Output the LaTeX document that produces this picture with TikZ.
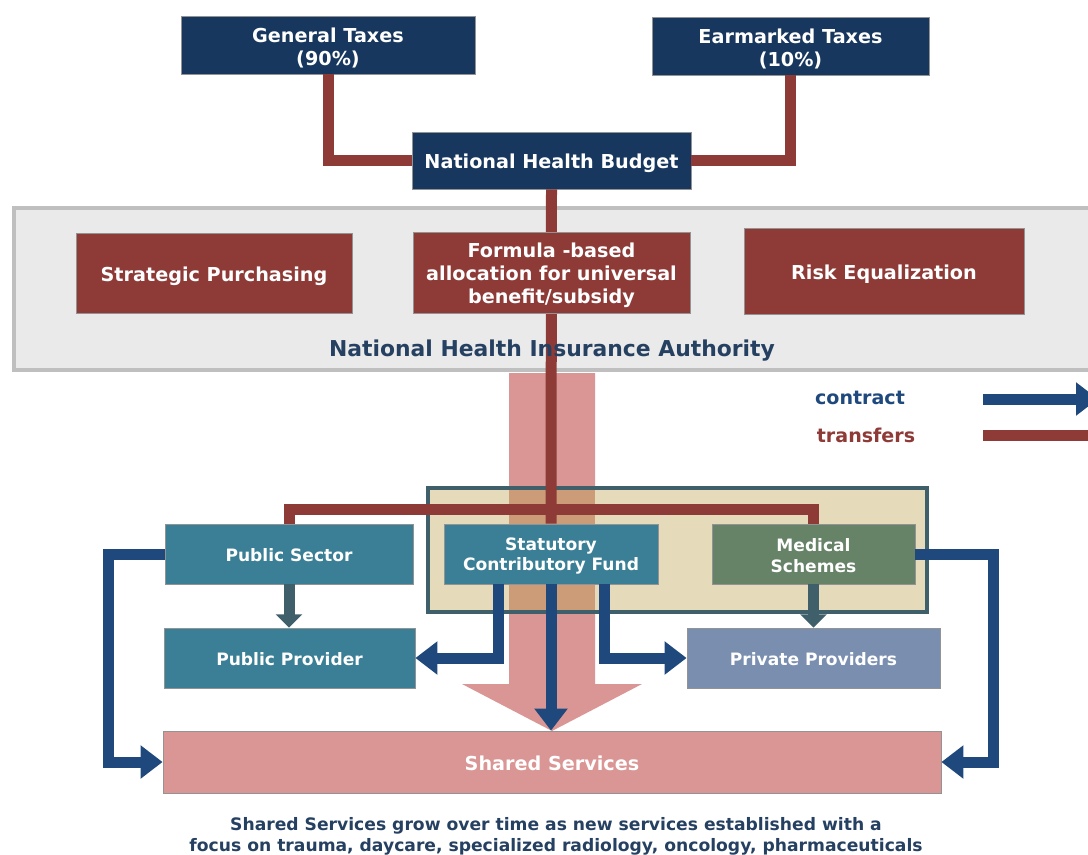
\documentclass[tikz,border=0pt]{standalone}
\usepackage{fontspec}
\setmainfont{DejaVu Sans}
\usetikzlibrary{arrows.meta}
\definecolor{navybox}{HTML}{17375E}
\definecolor{redbox}{HTML}{8E3B38}
\definecolor{tealbox}{HTML}{3A7F96}
\definecolor{greenbox}{HTML}{668267}
\definecolor{bluebox}{HTML}{7A8FB0}
\definecolor{pinkbox}{HTML}{D99694}
\definecolor{contractc}{HTML}{1F497D}
\definecolor{slate}{HTML}{3F5F6B}
\definecolor{panelg}{HTML}{EAEAEA}
\definecolor{paneledge}{HTML}{BFBFBF}
\definecolor{sand}{HTML}{E5DBBB}
\definecolor{overlap}{HTML}{CC9B78}
\definecolor{authtext}{HTML}{254061}
\tikzset{
  px/.style={x=0.75pt,y=-0.75pt},
  box/.style={rectangle,draw=gray!85,line width=0.6pt,inner sep=0pt},
  bigtext/.style={inner sep=0pt,align=center,text=white,font=\fontsize{14.4}{17.2}\selectfont\bfseries},
  smalltext/.style={bigtext,font=\fontsize{12.8}{15.7}\selectfont\bfseries},
  transfer/.style={draw=redbox,line width=8.25pt,line cap=butt,line join=miter},
  contract/.style={draw=contractc,line width=8.25pt,line join=miter,-{Triangle[width=24pt,length=16.5pt]}},
  slatearrow/.style={draw=slate,line width=8.25pt,-{Triangle[width=19.5pt,length=10pt]}}
}
% style of text, name, fill, x1, y1, x2, y2, downward text shift in pt, text
\newcommand{\bx}[9]{%
  \node[box,fill=#3,minimum width=#6*0.75pt-#4*0.75pt,minimum height=#7*0.75pt-#5*0.75pt] (#2) at ({(#4+#6)/2},{(#5+#7)/2}) {};
  \node[#1,yshift=-#8] (#2-text) at (#2) {#9};
}
\begin{document}
\begin{tikzpicture}[px]
\useasboundingbox (0,0) rectangle (1088,854);
\begin{scope}
\clip (0,0) rectangle (1088,854);
% pink big arrow
\fill[pinkbox] (509,373) -- (595,373) -- (595,684) -- (642,684) -- (552,731) -- (462,684) -- (509,684) -- cycle;
% NHI panel
\node[rectangle,draw=paneledge,fill=panelg,line width=3.4pt,minimum width=1090*0.75pt,minimum height=162*0.75pt,inner sep=0pt] (panel) at (559,289) {};
% frame
\fill[sand] (427,487) rectangle (928,613);
\fill[overlap] (509,489) rectangle (595,611);
\node[rectangle,draw=slate,line width=3.2pt,minimum width=499*0.75pt,minimum height=124*0.75pt,inner sep=0pt] (frame) at (427.5+250,550) {};
% transfers are drawn under the boxes: coordinates of the boxes first
\bx{bigtext}{general}{navybox}{181}{16}{475}{74}{2.25pt}{General Taxes\\(90\%)}
\bx{bigtext}{earmarked}{navybox}{652}{17}{929}{75}{2.25pt}{Earmarked Taxes\\(10\%)}
\bx{bigtext}{budget}{navybox}{412}{132}{691}{189}{2.25pt}{National Health Budget}
\bx{smalltext}{pubsec}{tealbox}{165}{524}{413}{584}{0.75pt}{Public Sector}
\bx{smalltext}{stat}{tealbox}{444}{524}{658}{584}{1.5pt}{Statutory\\Contributory Fund}
\bx{smalltext}{medical}{greenbox}{712}{524}{915}{584}{1.5pt}{Medical\\Schemes}
\bx{smalltext}{pubprov}{tealbox}{164}{628}{415}{688}{0.75pt}{Public Provider}
\bx{smalltext}{privprov}{bluebox}{687}{628}{940}{688}{0.75pt}{Private Providers}
\bx{bigtext}{shared}{pinkbox}{163}{731}{941}{793}{0.75pt}{Shared Services}
% transfers
\draw[transfer] (general.south) |- (budget.west);
\draw[transfer] (earmarked.south) |- (budget.east);
\draw[transfer] (budget.south) -- (stat.north);
\coordinate (bar) at (551,509);
\draw[transfer] (pubsec.north) |- (bar) -| (medical.north);
% boxes over line
\bx{bigtext}{strategic}{redbox}{76}{233}{352}{313}{2.25pt}{Strategic Purchasing}
\bx{bigtext}{formula}{redbox}{413}{232}{690}{313}{2.25pt}{Formula -based\\allocation for universal\\benefit/subsidy}
\bx{bigtext}{risk}{redbox}{744}{228}{1024}{314}{2.25pt}{Risk Equalization}
\node[font=\fontsize{16.4}{18}\selectfont\bfseries,text=authtext,inner sep=0pt] (authority) at (552,351) {National Health Insurance Authority};
% contracts
\draw[slatearrow] (pubsec.south) -- (pubsec.south |- pubprov.north);
\draw[slatearrow] (medical.south) -- (medical.south |- privprov.north);
\draw[contract] ([xshift=-39.75pt]stat.south) |- (pubprov.east);
\draw[contract] ([xshift=39.75pt]stat.south) |- (privprov.west);
\draw[contract] (stat.south) -- (stat.south |- shared.north);
\draw[contract] (pubsec.west) -- ++(-56,0) |- (shared.west);
\draw[contract] (medical.east) -- ++(78,0) |- (shared.east);
% legend
\node[font=\fontsize{14.3}{16}\selectfont\bfseries,text=contractc,inner sep=0pt] (lcontract) at (860,398) {contract};
\node[font=\fontsize{14.3}{16}\selectfont\bfseries,text=redbox,inner sep=0pt] (ltransfer) at (866,435) {transfers};
\coordinate (cstart) at (983,399);
\coordinate (cend) at (1098,399);
\coordinate (tstart) at (983,435);
\coordinate (tend) at (1090,435);
\draw[contract] (cstart) -- (cend);
\draw[transfer] (tstart) -- (tend);
% caption
\node[font=\fontsize{12.87}{15.5}\selectfont\bfseries,text=authtext,align=center,inner sep=0pt] (caption) at (556,836) {Shared Services grow over time as new services established with a\\focus on trauma, daycare, specialized radiology, oncology, pharmaceuticals};
\end{scope}
\end{tikzpicture}
\end{document}
